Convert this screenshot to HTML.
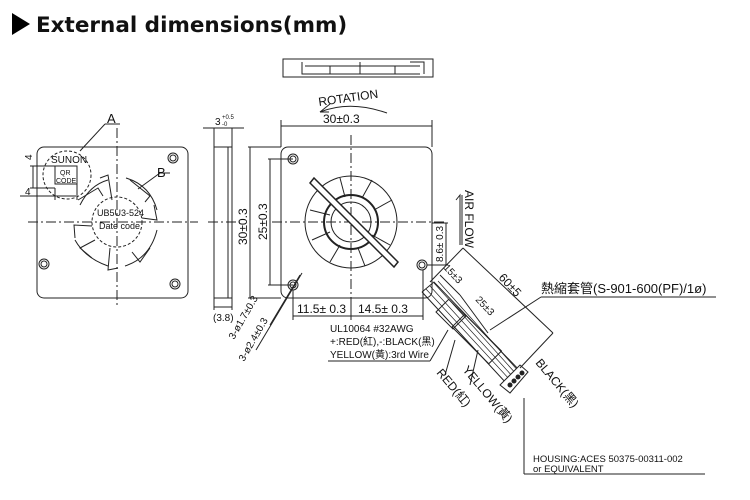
<!DOCTYPE html>
<html><head><meta charset="utf-8"><style>
body{margin:0;background:#fff}
svg{display:block}
text{font-family:"Liberation Sans","Noto Sans CJK TC",sans-serif;fill:#111}
</style></head><body>
<svg width="750" height="500" viewBox="0 0 750 500" xmlns="http://www.w3.org/2000/svg">
<g stroke="#222" fill="none" stroke-width="1">
<polygon points="12,13 12,35 30,24" fill="#000" stroke="none"/>
</g>
<text x="36" y="32" font-size="21.5" font-weight="bold" style="font-family:'DejaVu Sans',sans-serif">External dimensions(mm)</text>

<g stroke="#222" fill="none" stroke-width="1">
<rect x="37" y="147" width="151" height="151" rx="7"/>
<line x1="28" y1="222" x2="198" y2="222" stroke-dasharray="10,3,2,3"/>
<line x1="117" y1="128" x2="117" y2="306" stroke-dasharray="10,3,2,3"/>
<circle cx="117" cy="222" r="25" stroke-dasharray="3,2"/>
<path d="M80,205 Q90,185 108,180 M126,178 Q150,185 157,210 M157,230 Q150,258 125,266 M108,266 Q85,258 75,240"/>
<path d="M78,200 L98,188 L103,196 M100,178 L108,175 L112,200 M130,180 L150,196 L145,202 M154,205 L157,220 L142,218 M150,248 L140,262 L132,252 M118,268 L108,270 L110,248 M92,258 L80,248 L95,240 M75,238 L74,225 L92,226"/>
<circle cx="67" cy="175" r="24" stroke-dasharray="3,2"/>
<rect x="55" y="166" width="22" height="18"/>
<line x1="80" y1="151" x2="105" y2="124"/><line x1="105" y1="124" x2="120" y2="124"/>
<line x1="138" y1="189" x2="160" y2="173"/><line x1="160" y1="173" x2="170" y2="173"/>
<line x1="30" y1="166" x2="55" y2="166"/><line x1="30" y1="188" x2="55" y2="188"/>
<line x1="33" y1="166" x2="33" y2="188"/>
<line x1="20" y1="196" x2="76" y2="196"/><line x1="55" y1="188" x2="55" y2="200"/><line x1="77" y1="184" x2="77" y2="200"/>
<circle cx="173" cy="158" r="5"/><circle cx="173" cy="158" r="3"/>
<circle cx="44" cy="264" r="5"/><circle cx="44" cy="264" r="3"/>
<circle cx="175" cy="284" r="5"/><circle cx="175" cy="284" r="3"/>
<rect x="214" y="147" width="18" height="151"/>
<line x1="228" y1="147" x2="228" y2="298"/>
<line x1="214" y1="128" x2="214" y2="147"/><line x1="232" y1="128" x2="232" y2="147"/>
<line x1="203" y1="128" x2="244" y2="128"/>
<line x1="214" y1="298" x2="214" y2="310"/><line x1="232" y1="298" x2="232" y2="310"/>
<line x1="214" y1="307" x2="232" y2="307"/>
<line x1="208" y1="222" x2="240" y2="222" stroke-dasharray="10,3,2,3"/>
<rect x="283" y="59" width="150" height="18"/>
<path d="M302,62 L302,74 L420,74 M305,66 L420,66 M330,66 L330,74 M360,62 L360,74 M395,66 L395,74 M410,62 L424,62 L424,74"/>
<rect x="281" y="147" width="151" height="151" rx="7"/>
<line x1="272" y1="222" x2="445" y2="222" stroke-dasharray="10,3,2,3"/>
<line x1="351" y1="135" x2="351" y2="310" stroke-dasharray="10,3,2,3"/>
<circle cx="351" cy="222" r="46"/>
<circle cx="351" cy="222" r="27" stroke-width="2"/>
<circle cx="351" cy="222" r="20"/>
<path d="M310,210 L330,215 M312,240 L330,232 M330,262 L340,245 M365,266 L358,248 M390,245 L372,235 M392,200 L374,210 M372,180 L362,198 M340,178 L345,197 M320,190 L335,205"/>
<path d="M310,183 L314,178 L398,262 L394,267 Z" fill="#fff" stroke-width="1.5"/>
<circle cx="293" cy="159" r="5"/><circle cx="293" cy="159" r="3"/>
<circle cx="293" cy="285" r="5"/><circle cx="293" cy="285" r="3"/>
<circle cx="422" cy="265" r="5"/><circle cx="422" cy="265" r="3"/>
<line x1="281" y1="126" x2="432" y2="126"/><line x1="281" y1="120" x2="281" y2="147"/><line x1="432" y1="120" x2="432" y2="147"/>
<path d="M320,112 Q350,100 387,113"/><path d="M320,112 L330,104 M320,112 L329,112" />
<line x1="248" y1="147" x2="281" y2="147"/><line x1="248" y1="298" x2="281" y2="298"/>
<line x1="250" y1="147" x2="250" y2="298"/>
<line x1="268" y1="159" x2="293" y2="159"/><line x1="268" y1="285" x2="293" y2="285"/>
<line x1="270" y1="159" x2="270" y2="285"/>
<line x1="293" y1="290" x2="293" y2="320"/><line x1="351" y1="298" x2="351" y2="320"/><line x1="423" y1="270" x2="423" y2="320"/>
<line x1="293" y1="316" x2="423" y2="316"/>
<line x1="432" y1="223" x2="448" y2="223"/><line x1="427" y1="265" x2="448" y2="265"/>
<line x1="446" y1="223" x2="446" y2="265"/>
<path d="M460,245 L460,195 L456,200"/><path d="M462,245 L462,195"/>
<line x1="300" y1="275" x2="270" y2="325"/><line x1="302" y1="273" x2="256" y2="350"/>
<path d="M422,292 L434,282 L522,373 M422,292 L507,384"/>
<path d="M426,289 L511,381 M430,286 L514,378 M434,283 L518,376 M438,281 L521,374" stroke-width="0.7"/>
<rect x="0" y="0" width="18" height="24" transform="translate(436,312) rotate(-45)"/>
<rect x="0" y="0" width="18" height="52" transform="translate(452,327) rotate(-45)"/>
<path d="M500,385 L520,365 L528,372 L510,393 Z" fill="#fff"/>
<g fill="#222"><circle cx="514" cy="381" r="2"/><circle cx="518" cy="377" r="2"/><circle cx="522" cy="373" r="2"/><circle cx="510" cy="385" r="2"/></g>
<line x1="463" y1="248" x2="553" y2="333"/><line x1="463" y1="248" x2="430" y2="282"/><line x1="553" y1="333" x2="520" y2="368"/>
<line x1="440" y1="275" x2="460" y2="295"/><line x1="460" y1="295" x2="488" y2="333"/>
<line x1="490" y1="330" x2="541" y2="297"/><line x1="541" y1="297" x2="716" y2="297"/>
<line x1="524" y1="398" x2="524" y2="474"/><line x1="524" y1="474" x2="705" y2="474"/>
<line x1="328" y1="361" x2="430" y2="361"/><line x1="430" y1="361" x2="448" y2="330"/>
<line x1="455" y1="340" x2="445" y2="375"/><line x1="478" y1="350" x2="470" y2="385"/>
</g>

<g font-size="10">
<text x="51" y="163">SUNON</text>
<text x="60" y="175" font-size="7">QR</text>
<text x="56" y="183" font-size="7">CODE</text>
<text x="97" y="216" font-size="9">UB5U3-524</text>
<text x="99" y="229" font-size="9">Date code</text>
<text x="107" y="123" font-size="13">A</text>
<text x="157" y="177" font-size="13">B</text>
<text x="25" y="195">4</text>
<text transform="translate(32,160) rotate(-90)">4</text>
<text x="215" y="125" font-size="10">3</text><text x="222" y="119" font-size="6">+0.5</text><text x="222" y="126" font-size="6">-0</text>
<text x="213" y="321" font-size="10">(3.8)</text>
<text x="323" y="123" font-size="12">30±0.3</text>
<text transform="translate(319,106) rotate(-8)" font-size="12">ROTATION</text>
<text transform="translate(247,245) rotate(-90)" font-size="12">30±0.3</text>
<text transform="translate(267,240) rotate(-90)" font-size="12">25±0.3</text>
<text x="297" y="313" font-size="12">11.5± 0.3</text>
<text x="358" y="313" font-size="12">14.5± 0.3</text>
<text transform="translate(443,262) rotate(-90)" font-size="10">8.6± 0.3</text>
<text transform="translate(465,190) rotate(90)" font-size="12">AIR FLOW</text>
<text transform="translate(234,340) rotate(-60)" font-size="10">3-ø1.7±0.3</text>
<text transform="translate(244,362) rotate(-60)" font-size="10">3-ø2.4±0.3</text>
<text x="330" y="332" font-size="10">UL10064  #32AWG</text>
<text x="330" y="345" font-size="10">+:RED(紅),-:BLACK(黑)</text>
<text x="330" y="358" font-size="10">YELLOW(黃):3rd  Wire</text>
<text transform="translate(498,278) rotate(47)" font-size="12">60±5</text>
<text transform="translate(443,268) rotate(47)" font-size="10">15±3</text>
<text transform="translate(475,300) rotate(47)" font-size="10">25±3</text>
<text x="541" y="293" font-size="13">熱縮套管(S-901-600(PF)/1ø)</text>
<text transform="translate(436,373) rotate(50)" font-size="12">RED(紅)</text>
<text transform="translate(462,370) rotate(50)" font-size="12">YELLOW(黃)</text>
<text transform="translate(535,363) rotate(50)" font-size="12">BLACK(黑)</text>
<text x="533" y="462" font-size="9.5">HOUSING:ACES  50375-00311-002</text>
<text x="533" y="472" font-size="9.5">or  EQUIVALENT</text>
</g>
</svg>
</body></html>
